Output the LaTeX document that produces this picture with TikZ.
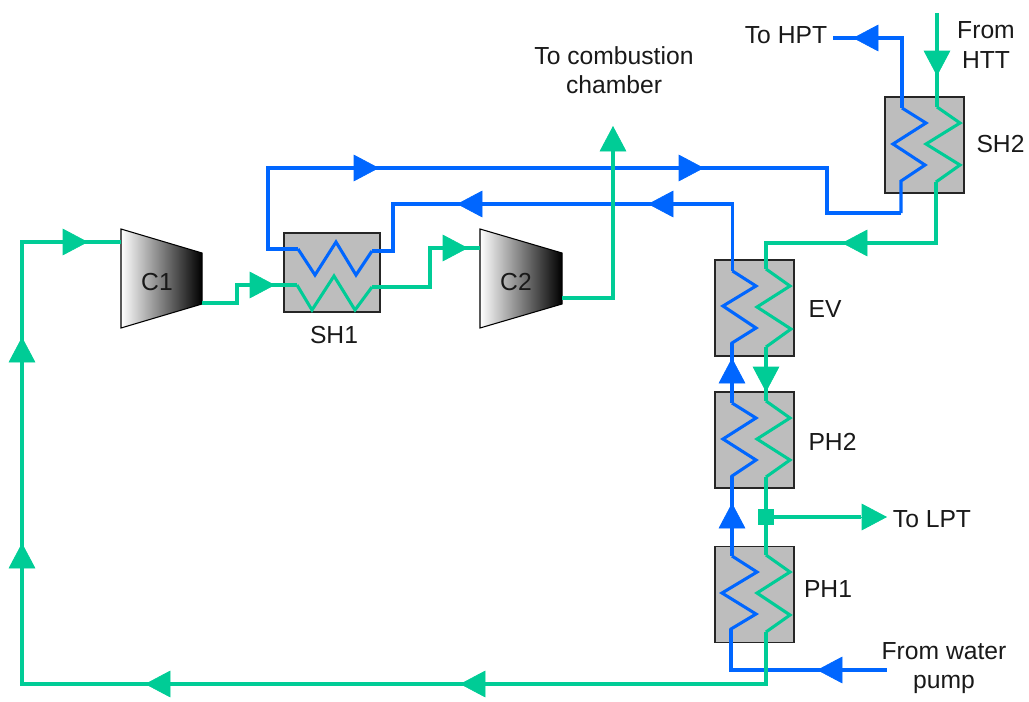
\documentclass[tikz,border=0pt]{standalone}
\usepackage{fontspec}
\setmainfont{Liberation Sans}
\usetikzlibrary{arrows.meta}
\definecolor{hotblue}{HTML}{0066FF}
\definecolor{gasgreen}{HTML}{00CC96}
\definecolor{boxgrey}{HTML}{BDBDBD}
\tikzset{
  hxbox/.style={draw=black!85,line width=1.1pt,fill=boxgrey,inner sep=0pt,outer sep=0pt,minimum width=59.25pt,minimum height=72pt},
  hxwide/.style={hxbox,minimum width=72pt,minimum height=59.25pt},
  bluepipe/.style={draw=hotblue,line width=2.7pt,line join=miter,line cap=butt},
  greenpipe/.style={draw=gasgreen,line width=2.7pt,line join=miter,line cap=butt},
  bluecoil/.style={bluepipe,line width=2.3pt},
  greencoil/.style={greenpipe,line width=2.3pt},
  bluetip/.style={draw=hotblue,line width=0.5pt,-{Triangle[length=19pt,width=20pt,fill=hotblue]}},
  greentip/.style={draw=gasgreen,line width=0.5pt,-{Triangle[length=19pt,width=20pt,fill=gasgreen]}},
  label/.style={font=\fontsize{18.5pt}{22pt}\selectfont,inner sep=0pt,align=center,text=black!90},
  compressor/.style={draw=black,line width=0.8pt,left color=white,right color=black},
}
\begin{document}
\begin{tikzpicture}[x=0.75pt,y=-0.75pt]
\useasboundingbox (0,0) rectangle (1029,701);
% exchangers
\node[hxbox] (SHtwo) at (924.5,145) {};
\node[hxbox] (EV) at (754.5,308) {};
\node[hxbox] (PHtwo) at (754.5,440) {};
\node[hxbox] (PHone) at (754.5,594.5) {};
\node[hxwide] (SHone) at (332,272.5) {};
% compressors
\path[compressor] (121,229) -- (202,253) -- (202,304) -- (121,328) -- cycle;
\path[compressor] (480,229) -- (562,253) -- (562,304) -- (480,328) -- cycle;
% free ends and junctions
\coordinate (hpt) at (833,38);
\coordinate (htt) at (937,13);
\coordinate (pump) at (887,670);
\coordinate (lpt) at (861,517);
\coordinate (split) at (765.5,517);
\coordinate (cc) at (613,140);
\coordinate (cOneIn) at (121,242);
\coordinate (cOneOut) at (202,303);
\coordinate (cTwoIn) at (480,248);
\coordinate (cTwoOut) at (562,298);
% blue water / steam line
\draw[bluepipe] (hpt) -- (902,38) -- (902,108);
\draw[bluecoil] (902,108) -- (926,123) -- (893,144) -- (925,165) -- (901,181) -- (901,213);
\draw[bluepipe] (901,213) -- (827,213) -- (827,168) -- (268,168) -- (268,249) -- (298,249);
\draw[bluecoil] (298,249) -- (315,275) -- (336,242) -- (356,275) -- (372,251);
\draw[bluepipe] (372,251) -- (393,251) -- (393,204) -- (732.5,204) -- (732.5,271);
\draw[bluecoil] (732.5,271) -- (756,286) -- (723,306) -- (756,328) -- (732,343) -- (732,356);
\draw[bluepipe] (732,343) -- (732,403);
\draw[bluecoil] (732,403) -- (756,418) -- (723,439) -- (756,460) -- (732,476) -- (732,488);
\draw[bluepipe] (732,476) -- (732,556);
\draw[bluecoil] (732,556) -- (757,572) -- (722,593) -- (756,614) -- (731,629) -- (731,642);
\draw[bluepipe] (731,629) -- (731,670) -- (pump);
% green gas line
\draw[greenpipe] (htt) -- (937,107);
\draw[greencoil] (937,107) -- (960,123) -- (926,144) -- (960,165) -- (936,182);
\draw[greenpipe] (936,182) -- (936,243) -- (766,243) -- (766,269);
\draw[greencoil] (766,269) -- (790,286) -- (757,307) -- (791,329) -- (766,347);
\draw[greenpipe] (766,347) -- (766,401);
\draw[greencoil] (766,401) -- (790,418) -- (757,439) -- (790,460) -- (766,477);
\draw[greenpipe] (766,477) -- (766,555);
\draw[greencoil] (766,555) -- (790,572) -- (757,593) -- (790,615) -- (766,632);
\draw[greenpipe] (766,632) -- (766,684) -- (22,684) -- (22,242) -- (cOneIn);
\draw[greenpipe] (cOneOut) -- (237,303) -- (237,285) -- (297,285);
\draw[greencoil] (297,285) -- (312,310) -- (334,276) -- (355,310) -- (372,287);
\draw[greenpipe] (372,287) -- (430,287) -- (430,248) -- (cTwoIn);
\draw[greenpipe] (cTwoOut) -- (613,298) -- (cc);
\draw[greenpipe] (split) -- (lpt);
\node[fill=gasgreen,minimum size=12pt,inner sep=0pt] (tap) at (split) {};
% flow arrows, blue
\draw[bluetip] (353,168) -- (379,168);
\draw[bluetip] (678,168) -- (704,168);
\draw[bluetip] (483,204) -- (457,204);
\draw[bluetip] (674,204) -- (648,204);
\draw[bluetip] (878,38) -- (853,38);
\draw[bluetip] (732,384) -- (732,358);
\draw[bluetip] (732,528) -- (732,503);
\draw[bluetip] (842,670) -- (817,670);
% flow arrows, green
\draw[greentip] (937,51) -- (937,76);
\draw[greentip] (867,243) -- (842,243);
\draw[greentip] (766,366) -- (766,392);
\draw[greentip] (861,517) -- (887,517);
\draw[greentip] (170,684) -- (145,684);
\draw[greentip] (485,684) -- (460,684);
\draw[greentip] (22,568) -- (22,543);
\draw[greentip] (22,363) -- (22,337);
\draw[greentip] (63,242) -- (88,242);
\draw[greentip] (250,285) -- (275,285);
\draw[greentip] (443,248) -- (468,248);
\draw[greentip] (613,151) -- (613,126);
% labels
\node[label] (lHPT) at (786,35) {To HPT};
\node[label] (lHTT) at (986,45) {From\\HTT};
\node[label] (lCC) at (614,70) {To combustion\\chamber};
\node[label] (lSHtwo) at (1000.5,144) {SH2};
\node[label] (lEV) at (825,309) {EV};
\node[label] (lPHtwo) at (832.5,442) {PH2};
\node[label] (lPHone) at (828,589.5) {PH1};
\node[label] (lLPT) at (932,519) {To LPT};
\node[label] (lPump) at (944,668) {From water\\pump};
\node[label] (lSHone) at (334,335) {SH1};
\node[label] (lCone) at (157,282) {C1};
\node[label] (lCtwo) at (516,282) {C2};
\end{tikzpicture}
\end{document}
